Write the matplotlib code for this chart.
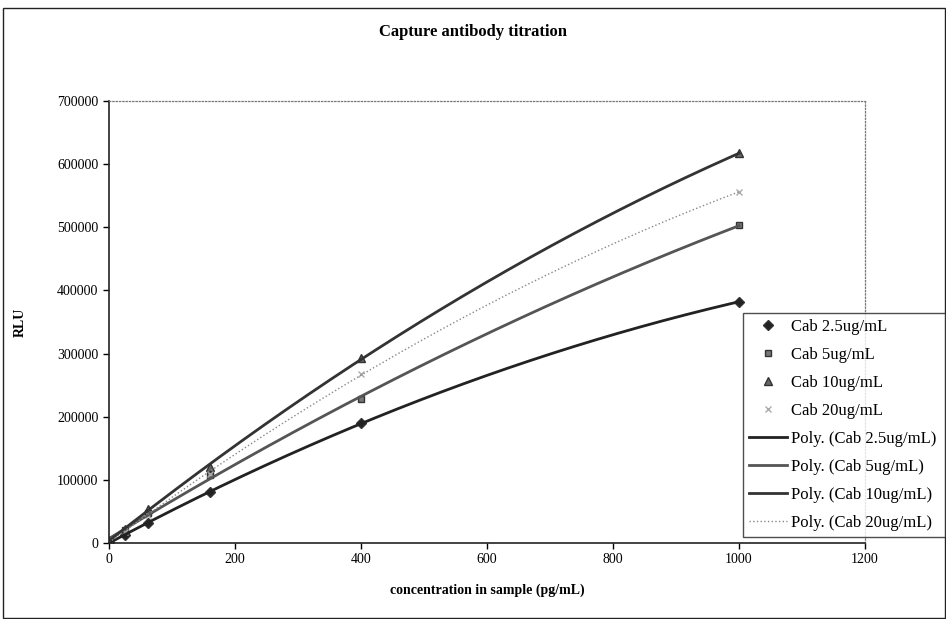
import matplotlib.pyplot as plt
import numpy as np
from matplotlib.patches import Rectangle

plt.rcParams['font.family'] = ['Liberation Serif', 'DejaVu Serif']

# concentration in sample (pg/mL)
conc = [0, 25, 62.5, 160, 400, 1000]

# RLU
cab_2_5 = [2000, 12000, 32000, 80000, 190000, 382000]
cab_5 = [3000, 20000, 48000, 108000, 228000, 503000]
cab_10 = [5000, 22000, 54000, 120000, 293000, 617000]
cab_20 = [4000, 18000, 45000, 110000, 268000, 556000]

labels = ['Cab 2.5ug/mL', 'Cab 5ug/mL', 'Cab 10ug/mL', 'Cab 20ug/mL']


def plot_titration():
    fig = plt.figure(figsize=(9.46, 6.19), dpi=100)
    ax = fig.add_axes([0.1152, 0.1228, 0.7992, 0.714])

    # outer chart frame
    fig.patches.append(Rectangle((0.003, 0.002), 0.996, 0.985, transform=fig.transFigure,
                                 fill=False, edgecolor='#222222', linewidth=1.0))

    series = [cab_2_5, cab_5, cab_10, cab_20]
    markers = ['D', 's', '^', 'x']
    mcolors = ['#222222', '#777777', '#666666', '#aaaaaa']
    msizes = [5, 5, 6, 5]

    handles_pts = []
    for ys, m, c, s, lab in zip(series, markers, mcolors, msizes, labels):
        h, = ax.plot(conc, ys, linestyle='none', marker=m, color=c, markersize=s,
                     markeredgecolor='#333333' if m != 'x' else c, label=lab)
        handles_pts.append(h)

    # second order polynomial trendlines
    xs = np.linspace(0, 1000, 200)
    lstyles = [dict(color='#222222', lw=2.0, ls='-'),
               dict(color='#555555', lw=2.0, ls='-'),
               dict(color='#333333', lw=2.0, ls='-'),
               dict(color='#888888', lw=1.0, ls=':')]
    handles_fit = []
    for ys, st, lab in zip(series, lstyles, labels):
        coef = np.polyfit(conc, ys, 2)
        h, = ax.plot(xs, np.polyval(coef, xs), label='Poly. (' + lab + ')', **st)
        handles_fit.append(h)

    ax.set_xlim(0, 1200)
    ax.set_ylim(0, 700000)
    ax.set_xticks(np.arange(0, 1201, 200))
    ax.set_yticks(np.arange(0, 700001, 100000))
    ax.tick_params(direction='out', length=4, labelsize=10, width=1)

    for side in ['top', 'right']:
        ax.spines[side].set_linestyle(':')
        ax.spines[side].set_color('#777777')
        ax.spines[side].set_linewidth(0.9)
    for side in ['left', 'bottom']:
        ax.spines[side].set_linewidth(1.2)
        ax.spines[side].set_color('#222222')

    fig.text(0.5, 0.948, 'Capture antibody titration', ha='center', va='center',
             fontsize=12, fontweight='bold')
    ax.set_xlabel('concentration in sample (pg/mL)', fontsize=10, fontweight='bold', labelpad=12)
    ax.set_ylabel('RLU', fontsize=10, fontweight='bold', labelpad=22)

    leg = fig.legend(handles=handles_pts + handles_fit, loc='lower left',
                     bbox_to_anchor=(743 / 946, 1 - 537 / 619, 202 / 946, 224 / 619),
                     mode='expand', fontsize=12, frameon=True, fancybox=False,
                     borderaxespad=0, handlelength=2.3, handletextpad=0.2,
                     labelspacing=0.72, borderpad=0.35)
    leg.get_frame().set_edgecolor('#222222')
    leg.get_frame().set_linewidth(1.0)

    plt.savefig('out.png', dpi=100)


plot_titration()
